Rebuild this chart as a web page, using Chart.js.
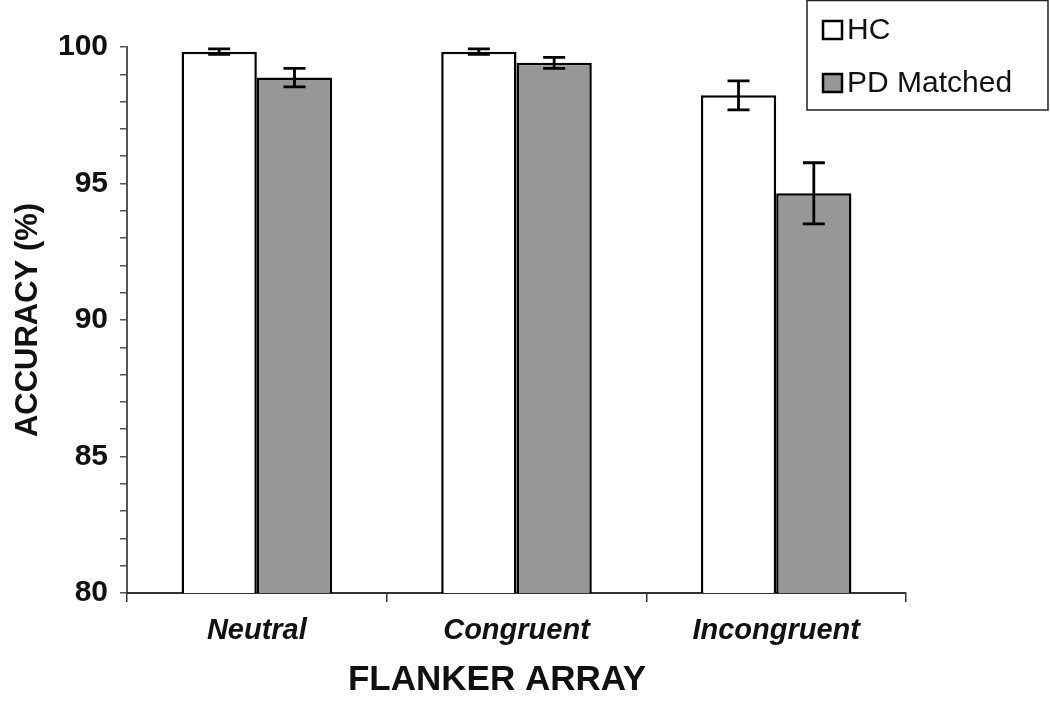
<!DOCTYPE html>
<html>
<head>
<meta charset="utf-8">
<script src="https://cdn.jsdelivr.net/npm/chart.js@4.4.1/dist/chart.umd.min.js"></script>
<style>
  html, body { margin: 0; padding: 0; background: #fff; }
  #wrap { width: 1050px; height: 701px; }
</style>
</head>
<body>
<div id="wrap"><canvas id="grafico" width="1050" height="701"></canvas></div>
<script>
const categorias = ["Neutral", "Congruent", "Incongruent"];
const hcValores = [99.83, 99.83, 98.23];
const hcErrores = [0.1, 0.1, 0.53];
const pdValores = [98.88, 99.42, 94.64];
const pdErrores = [0.34, 0.2, 1.12];
const yTicks = [80, 85, 90, 95, 100];

const fuente = "'Liberation Sans', Arial, sans-serif";

// barras de error dibujadas con las escalas del grafico
const barrasError = {
    id: 'barrasError',
    afterDatasetsDraw(chart) {
        const ctx = chart.ctx;
        const y = chart.scales.y;
        chart.data.datasets.forEach((ds, i) => {
            const meta = chart.getDatasetMeta(i);
            meta.data.forEach((bar, j) => {
                const v = ds.data[j], e = ds.errores[j];
                const top = y.getPixelForValue(v + e);
                const bot = y.getPixelForValue(v - e);
                ctx.save();
                ctx.strokeStyle = '#000';
                ctx.lineWidth = 2.8;
                ctx.beginPath();
                ctx.moveTo(bar.x, top); ctx.lineTo(bar.x, bot);
                ctx.moveTo(bar.x - 11, top); ctx.lineTo(bar.x + 11, top);
                ctx.moveTo(bar.x - 11, bot); ctx.lineTo(bar.x + 11, bot);
                ctx.stroke();
                ctx.restore();
            });
        });
    }
};

// leyenda con marco en la esquina superior derecha
const leyendaCaja = {
    id: 'leyendaCaja',
    afterDraw(chart) {
        const ctx = chart.ctx;
        ctx.save();
        ctx.fillStyle = '#fff';
        ctx.fillRect(807, 0, 241, 110);
        ctx.strokeStyle = '#222';
        ctx.lineWidth = 1.5;
        ctx.strokeRect(807, 0.5, 241, 109.5);
        ctx.font = "30px " + fuente;
        ctx.textBaseline = 'middle';
        chart.data.datasets.forEach((ds, i) => {
            const cy = 30 + i * 53;
            ctx.fillStyle = ds.backgroundColor;
            ctx.fillRect(823, cy - 9, 19, 18);
            ctx.strokeStyle = '#000';
            ctx.lineWidth = 2.5;
            ctx.strokeRect(823, cy - 9, 19, 18);
            ctx.fillStyle = '#111';
            ctx.fillText(ds.label, 847, cy + 1);
        });
        ctx.restore();
    }
};

new Chart(document.getElementById('grafico'), {
    type: 'bar',
    data: {
        labels: categorias,
        datasets: [{
            label: 'HC',
            data: hcValores,
            errores: hcErrores,
            backgroundColor: '#ffffff',
            borderColor: '#000',
            borderWidth: 2.5
        }, {
            label: 'PD Matched',
            data: pdValores,
            errores: pdErrores,
            backgroundColor: '#979797',
            borderColor: '#000',
            borderWidth: 2.5
        }]
    },
    options: {
        responsive: false,
        animation: false,
        categoryPercentage: 0.58,
        barPercentage: 1.0,
        layout: { padding: { top: 47, right: 144, left: 0, bottom: 0 } },
        plugins: {
            legend: { display: false },
            tooltip: { enabled: false }
        },
        scales: {
            y: {
                min: 80,
                max: 100,
                afterFit: s => { s.width = 127; },
                afterBuildTicks: s => {
                    const t = [];
                    for (let v = 80; v <= 100; v++) t.push({ value: v });
                    s.ticks = t;
                },
                ticks: {
                    autoSkip: false,
                    color: '#111',
                    padding: 12,
                    font: { family: fuente, size: 30, weight: 'bold' },
                    callback: v => yTicks.includes(v) ? v : ''
                },
                grid: {
                    drawOnChartArea: false,
                    tickLength: 7,
                    color: '#555',
                    lineWidth: 1.5
                },
                border: { color: '#555', width: 2 },
                title: {
                    display: true,
                    text: 'ACCURACY (%)',
                    color: '#111',
                    font: { family: fuente, size: 31, weight: 'bold' },
                    padding: { top: 10, bottom: 0 }
                }
            },
            x: {
                afterFit: s => { s.height = 108; },
                ticks: {
                    color: '#111',
                    padding: 12,
                    font: { family: fuente, size: 29, weight: 'bold', style: 'italic' }
                },
                grid: {
                    offset: true,
                    drawOnChartArea: false,
                    tickLength: 9,
                    color: '#333',
                    lineWidth: 1.5
                },
                border: { color: '#333', width: 2 },
                title: {
                    display: true,
                    text: 'FLANKER ARRAY    ',
                    color: '#111',
                    font: { family: fuente, size: 35, weight: 'bold' },
                    padding: { top: 0, bottom: 0 }
                }
            }
        }
    },
    plugins: [barrasError, leyendaCaja]
});
</script>
</body>
</html>
